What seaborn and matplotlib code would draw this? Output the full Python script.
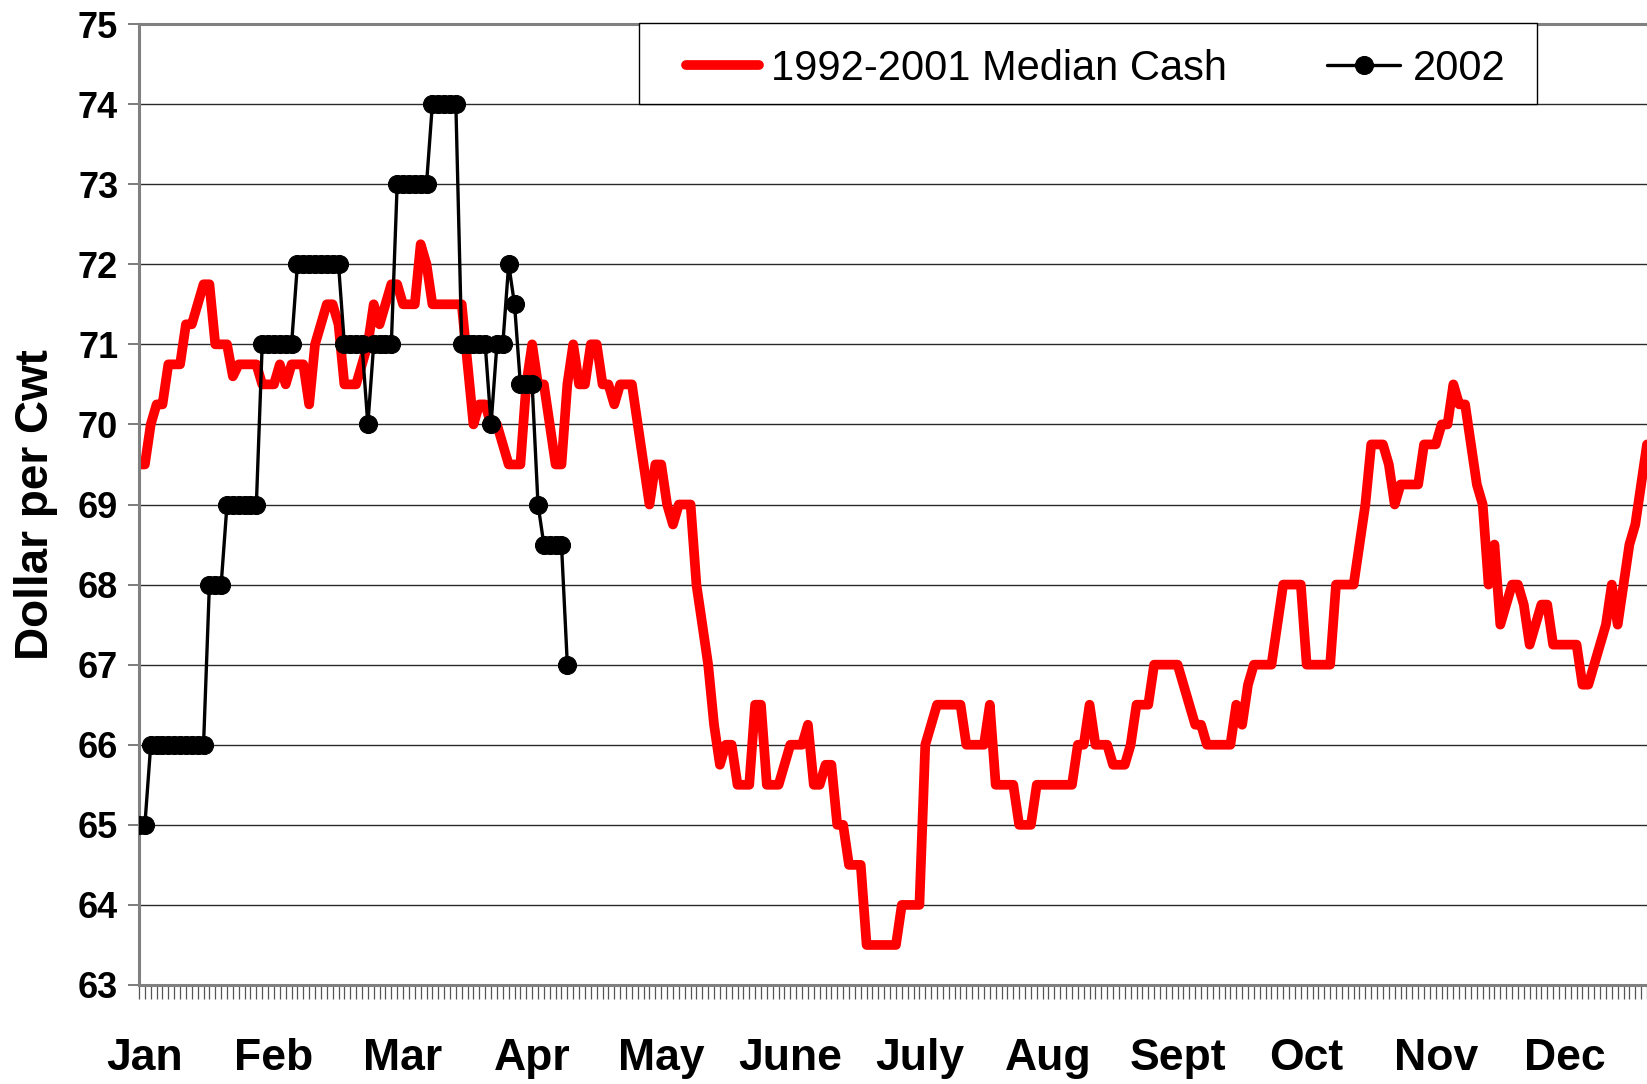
import matplotlib
matplotlib.use("Agg")
import matplotlib.pyplot as plt
from matplotlib.patches import Rectangle
import numpy as np
import seaborn as sns

# 1992-2001 median cash price, one value per trading day (Jan 2 .. mid Dec)
median_cash = [
    69.5, 69.5, 70.0, 70.25, 70.25, 70.75, 70.75, 70.75, 71.25, 71.25,
    71.5, 71.75, 71.75, 71.0, 71.0, 71.0, 70.6, 70.75, 70.75, 70.75,
    70.75, 70.5, 70.5, 70.5, 70.75, 70.5, 70.75, 70.75, 70.75, 70.25,
    71.0, 71.25, 71.5, 71.5, 71.25, 70.5, 70.5, 70.5, 70.75, 71.0,
    71.5, 71.25, 71.5, 71.75, 71.75, 71.5, 71.5, 71.5, 72.25, 72.0,
    71.5, 71.5, 71.5, 71.5, 71.5, 71.5, 70.75, 70.0, 70.25, 70.25,
    70.0, 70.0, 69.75, 69.5, 69.5, 69.5, 70.5, 71.0, 70.5, 70.5,
    70.0, 69.5, 69.5, 70.5, 71.0, 70.5, 70.5, 71.0, 71.0, 70.5,
    70.5, 70.25, 70.5, 70.5, 70.5, 70.0, 69.5, 69.0, 69.5, 69.5,
    69.0, 68.75, 69.0, 69.0, 69.0, 68.0, 67.5, 67.0, 66.25, 65.75,
    66.0, 66.0, 65.5, 65.5, 65.5, 66.5, 66.5, 65.5, 65.5, 65.5,
    65.75, 66.0, 66.0, 66.0, 66.25, 65.5, 65.5, 65.75, 65.75, 65.0,
    65.0, 64.5, 64.5, 64.5, 63.5, 63.5, 63.5, 63.5, 63.5, 63.5,
    64.0, 64.0, 64.0, 64.0, 66.0, 66.25, 66.5, 66.5, 66.5, 66.5,
    66.5, 66.0, 66.0, 66.0, 66.0, 66.5, 65.5, 65.5, 65.5, 65.5,
    65.0, 65.0, 65.0, 65.5, 65.5, 65.5, 65.5, 65.5, 65.5, 65.5,
    66.0, 66.0, 66.5, 66.0, 66.0, 66.0, 65.75, 65.75, 65.75, 66.0,
    66.5, 66.5, 66.5, 67.0, 67.0, 67.0, 67.0, 67.0, 66.75, 66.5,
    66.25, 66.25, 66.0, 66.0, 66.0, 66.0, 66.0, 66.5, 66.25, 66.75,
    67.0, 67.0, 67.0, 67.0, 67.5, 68.0, 68.0, 68.0, 68.0, 67.0,
    67.0, 67.0, 67.0, 67.0, 68.0, 68.0, 68.0, 68.0, 68.5, 69.0,
    69.75, 69.75, 69.75, 69.5, 69.0, 69.25, 69.25, 69.25, 69.25, 69.75,
    69.75, 69.75, 70.0, 70.0, 70.5, 70.25, 70.25, 69.75, 69.25, 69.0,
    68.0, 68.5, 67.5, 67.75, 68.0, 68.0, 67.75, 67.25, 67.5, 67.75,
    67.75, 67.25, 67.25, 67.25, 67.25, 67.25, 66.75, 66.75, 67.0, 67.25,
    67.5, 68.0, 67.5, 68.0, 68.5, 68.75, 69.25, 69.75,
]

# 2002 daily cash price so far
cash_2002 = (
    [65.0] * 2 + [66.0] * 10 + [68.0] * 3 + [69.0] * 6 + [71.0] * 6
    + [72.0] * 8 + [71.0] * 4 + [70.0] + [71.0] * 4 + [73.0] * 6
    + [74.0] * 5 + [71.0] * 5 + [70.0] + [71.0] * 2 + [72.0] + [71.5]
    + [70.5] * 3 + [69.0] + [68.5] * 4 + [67.0]
)

months = ["Jan", "Feb", "Mar", "Apr", "May", "June",
          "July", "Aug", "Sept", "Oct", "Nov", "Dec"]
days_per_label = 22
y_ticks = list(range(63, 76))

sns.set_style("white")
plt.rcParams["font.family"] = ["Liberation Sans", "DejaVu Sans"]
plt.rcParams["text.color"] = "black"
plt.rcParams["axes.labelcolor"] = "black"

W, H = 1647, 1084
fig = plt.figure(figsize=(W / 100, H / 100), dpi=100)
ax = fig.add_axes([139 / W, 99 / H, 1508 / W, 961 / H])

x_hist = np.arange(len(median_cash))
x_2002 = np.arange(len(cash_2002))

for y in y_ticks[1:]:
    ax.axhline(y, color="#2a2a2a", lw=1.0, zorder=0)

sns.lineplot(x=x_hist, y=median_cash, ax=ax, color="#ff0000", lw=7,
             solid_joinstyle="round", solid_capstyle="round",
             label="1992-2001 Median Cash", zorder=2)
sns.lineplot(x=x_2002, y=cash_2002, ax=ax, color="black", lw=2.4,
             marker="o", markersize=13, markeredgecolor="black",
             label="2002", zorder=3)

ax.set_xlim(0, 1508 / 5.877)
ax.set_ylim(63, 75)

# y axis
ax.set_yticks(y_ticks)
ax.set_yticklabels([str(v) for v in y_ticks], fontsize=26, fontweight="bold")
ax.tick_params(axis="y", direction="out", length=8, width=1.2,
               color="#666666", labelcolor="black", pad=7, left=True)

# x axis: one tick per trading day, month labels every 22 days
ax.set_xticks([days_per_label * k + 1 for k in range(len(months))])
ax.set_xticklabels(months, fontsize=32, fontweight="bold")
ax.set_xticks(np.arange(0, 258), minor=True)
ax.tick_params(axis="x", which="both", direction="out", length=10,
               width=0.9, color="#555555", labelcolor="black", bottom=True)
ax.tick_params(axis="x", which="major", pad=28)

ax.set_xlabel("")
ax.set_ylabel("Dollar per Cwt", fontsize=33, fontweight="bold")
ax.yaxis.set_label_coords(-0.054, 0.5)

for side in ["left", "bottom", "top"]:
    ax.spines[side].set_visible(True)
    ax.spines[side].set_color("#808080")
    ax.spines[side].set_linewidth(2.2)
ax.spines["right"].set_visible(False)

# legend box drawn separately so the entries can sit where the original has them
box = Rectangle((639 / W, 1 - 104 / H), 898 / W, 81 / H, transform=fig.transFigure,
                facecolor="white", edgecolor="black", lw=1.0, zorder=4,
                clip_on=False)
ax.add_patch(box)
leg = ax.legend(loc="upper left", bbox_to_anchor=(667 / W, 1 - 30 / H),
                bbox_transform=fig.transFigure, ncol=2, fontsize=30,
                frameon=False, borderaxespad=0, borderpad=0.45,
                handlelength=1.75, handletextpad=0.3, columnspacing=2.4)
leg.set_zorder(5)

fig.savefig("out.png", dpi=100, facecolor="white")
